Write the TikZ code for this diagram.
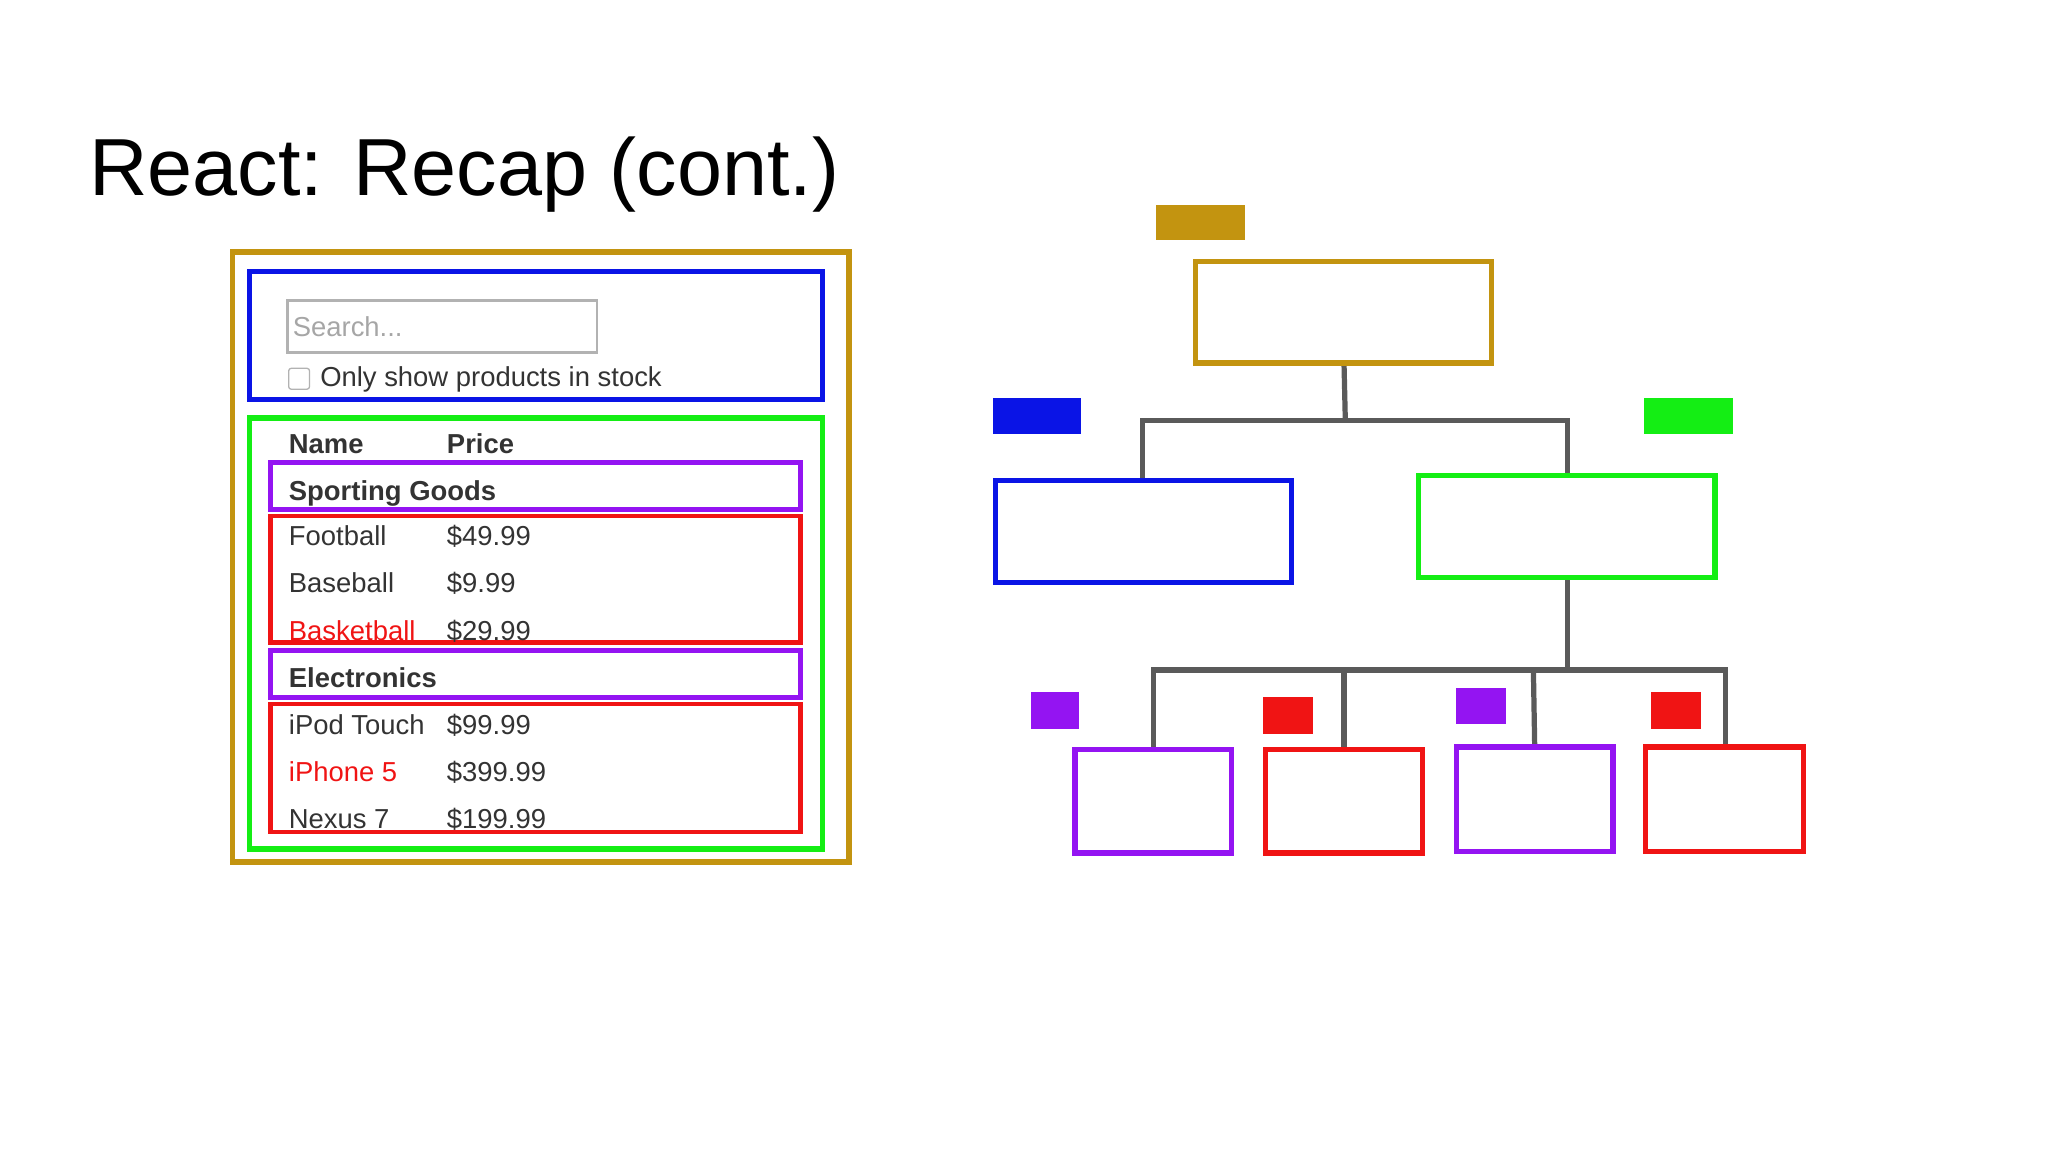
\documentclass[tikz,border=0pt]{standalone}
\usepackage{fontspec}
\setmainfont{Liberation Sans}
\definecolor{cgold}{HTML}{C39410}
\definecolor{cblue}{HTML}{0A14E6}
\definecolor{cgreen}{HTML}{14EE14}
\definecolor{cpurple}{HTML}{9414F2}
\definecolor{cred}{HTML}{F01414}
\definecolor{cline}{HTML}{5A5A5A}
\definecolor{ctxt}{HTML}{333333}
\begin{document}
\begin{tikzpicture}[x=1pt,y=-1pt,
  frame/.style={draw=#1,line width=4pt},
  thin/.style={draw=#1,line width=3.5pt},
  tag/.style={fill=#1},
  conn/.style={draw=cline,line width=4pt},
  txt/.style={anchor=base west,inner sep=0pt,font=\fontsize{21}{25}\selectfont,text=ctxt},
  btxt/.style={txt,font=\fontsize{21}{25}\selectfont\bfseries}]
\useasboundingbox (0,0) rectangle (1568,882);
\node[anchor=base west,inner sep=0pt,font=\fontsize{62}{70}\selectfont] (title) at (68,150) {React: Recap (cont.)};
% left panel
\draw[frame=cgold] (178,193) rectangle (650,660);
\draw[frame=cblue] (191,208) rectangle (630,306);
\draw[draw=black!30,line width=2pt] (220,230) rectangle (457,270);
\node[txt,text=black!35] (search) at (224,258) {Search...};
\draw[draw=black!30,line width=1pt,rounded corners=2pt] (221,282) rectangle (237,298);
\node[txt] (stock) at (245,296) {Only show products in stock};
\draw[frame=cgreen] (191,320) rectangle (630,650);
\node[btxt] (name) at (221,347) {Name};
\node[btxt] (price) at (342,347) {Price};
\draw[thin=cpurple] (207,354) rectangle (613,390);
\node[btxt] (sg) at (221,383) {Sporting Goods};
\draw[thin=cred] (207,395) rectangle (613,492);
\node[txt] (r1) at (221,418) {Football};
\node[txt] (p1) at (342,418) {\$49.99};
\node[txt] (r2) at (221,454) {Baseball};
\node[txt] (p2) at (342,454) {\$9.99};
\node[txt,text=cred] (r3) at (221,490) {Basketball};
\node[txt] (p3) at (342,490) {\$29.99};
\draw[thin=cpurple] (207,498) rectangle (613,534);
\node[btxt] (el) at (221,526) {Electronics};
\draw[thin=cred] (207,539) rectangle (613,637);
\node[txt] (r4) at (221,562) {iPod Touch};
\node[txt] (p4) at (342,562) {\$99.99};
\node[txt,text=cred] (r5) at (221,598) {iPhone 5};
\node[txt] (p5) at (342,598) {\$399.99};
\node[txt] (r6) at (221,634) {Nexus 7};
\node[txt] (p6) at (342,634) {\$199.99};
% tree connectors
\draw[conn] (1029,278) -- (1030,322);
\draw[conn] (875,367) -- (875,322) -- (1200,322) -- (1200,364);
\draw[conn] (1200,442) -- (1200,513);
\draw[conn] (883,574) -- (883,513) -- (1321,513) -- (1321,572);
\draw[conn] (1029,513) -- (1029,574);
\draw[conn] (1174,513) -- (1175,572);
% tree boxes
\fill[tag=cgold] (885,157) rectangle (953,184);
\draw[frame=cgold] (915,200) rectangle (1142,278);
\fill[tag=cblue] (760,305) rectangle (828,332);
\fill[tag=cgreen] (1259,305) rectangle (1327,332);
\draw[frame=cblue] (762,368) rectangle (989,446);
\draw[frame=cgreen] (1086,364) rectangle (1313,442);
\fill[tag=cpurple] (789,530) rectangle (826,558);
\fill[tag=cred] (967,534) rectangle (1005,562);
\fill[tag=cpurple] (1115,527) rectangle (1153,554);
\fill[tag=cred] (1264,530) rectangle (1302,558);
\draw[frame=cpurple] (823,574) rectangle (943,653);
\draw[frame=cred] (969,574) rectangle (1089,653);
\draw[frame=cpurple] (1115,572) rectangle (1235,652);
\draw[frame=cred] (1260,572) rectangle (1381,652);
\end{tikzpicture}
\end{document}
